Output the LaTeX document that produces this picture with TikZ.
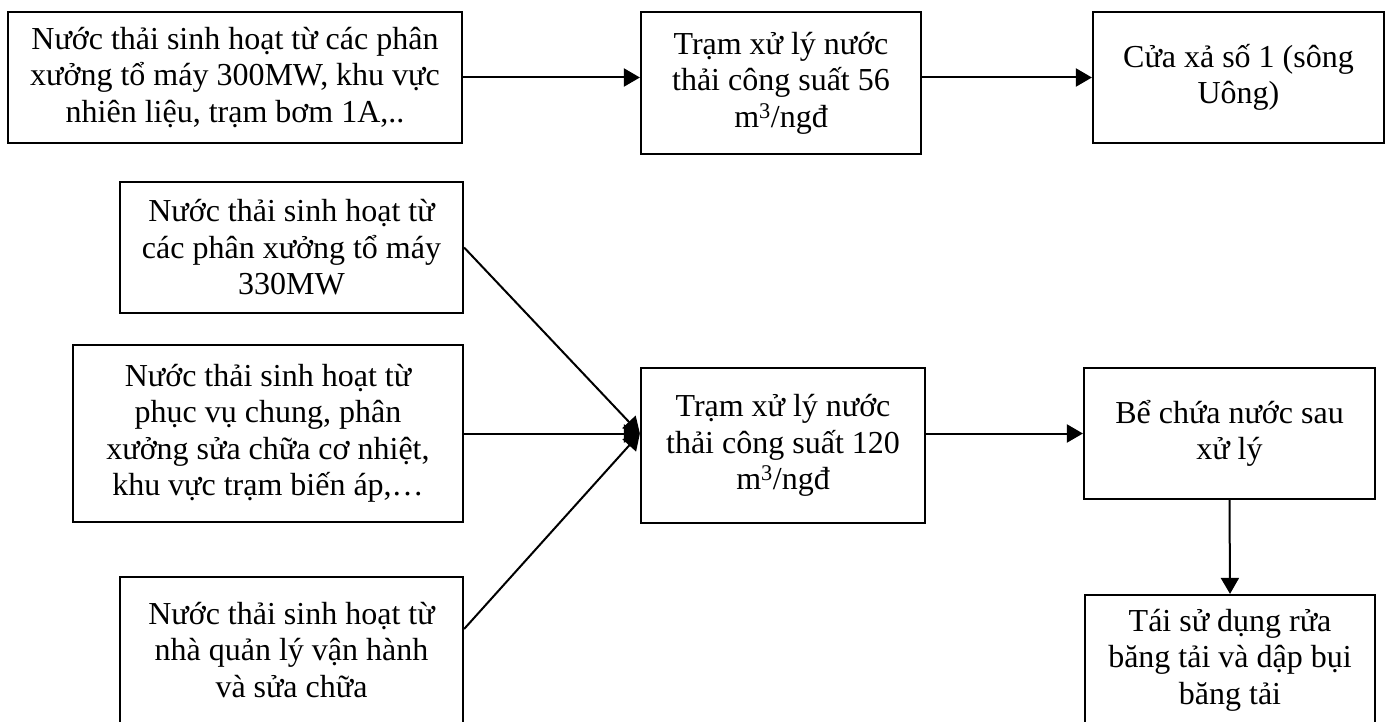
\documentclass[tikz,border=0pt]{standalone}
\usepackage{fontspec}
\setmainfont{Liberation Serif}
\usetikzlibrary{arrows.meta, positioning}

\tikzset{
  hop/.style={draw, line width=2.2pt, align=center, inner sep=0pt,
    font=\fontsize{32pt}{36.5pt}\selectfont},
  muiten/.style={-{Triangle[length=16pt, width=18pt]}, line width=2pt},
}

\begin{document}
\begin{tikzpicture}[x=1pt, y=-1pt]
    \useasboundingbox (0,0) rectangle (1388,722);

    % Dòng trên: trạm 56 m3/ngđ
    \node[hop, minimum width=454pt, minimum height=131pt] (nt300) at (235,77.5)
        {Nước thải sinh hoạt từ các phân\\xưởng tổ máy 300MW, khu vực\\nhiên liệu, trạm bơm 1A,..};
    \node[hop, minimum width=280pt, minimum height=142pt] (tram56) at (781,83)
        {Trạm xử lý nước\\thải công suất 56\\m\textsuperscript{3}/ngđ};
    \node[hop, minimum width=291pt, minimum height=131pt] (cuaxa) at (1238.5,77.5)
        {Cửa xả số 1 (sông\\Uông)};

    % Các nguồn vào trạm 120 m3/ngđ
    \node[hop, minimum width=343pt, minimum height=131pt] (nt330) at (291.5,247.5)
        {Nước thải sinh hoạt từ\\các phân xưởng tổ máy\\330MW};
    \node[hop, minimum width=390pt, minimum height=177pt] (ntchung) at (268,433.5)
        {Nước thải sinh hoạt từ\\phục vụ chung, phân\\xưởng sửa chữa cơ nhiệt,\\khu vực trạm biến áp,\dots};
    \node[hop, minimum width=343pt, minimum height=146pt] (ntql) at (291.5,650)
        {Nước thải sinh hoạt từ\\nhà quản lý vận hành\\và sửa chữa};

    \node[hop, minimum width=284pt, minimum height=155pt] (tram120) at (783,445.5)
        {Trạm xử lý nước\\thải công suất 120\\m\textsuperscript{3}/ngđ};
    \node[hop, minimum width=291pt, minimum height=131pt] (bechua) at (1229.5,433.5)
        {Bể chứa nước sau\\xử lý};
    \node[hop, minimum width=290pt, minimum height=130pt] (taisd) at (1230,660)
        {Tái sử dụng rửa\\băng tải và dập bụi\\băng tải};

    % Mũi tên
    \draw[muiten] (nt300.east) -- (nt300.east -| tram56.west);
    \draw[muiten] (tram56.east |- cuaxa.west) -- (cuaxa.west);

    \coordinate (vao) at (tram120.west |- ntchung.east);
    \draw[muiten] (nt330.east) -- (vao);
    \draw[muiten] (ntchung.east) -- (vao);
    \draw[muiten] ([yshift=21pt]ntql.east) -- (vao);

    \draw[muiten] (tram120.east |- bechua.west) -- (bechua.west);
    \draw[muiten] (bechua.south) -- (taisd.north);
\end{tikzpicture}
\end{document}
